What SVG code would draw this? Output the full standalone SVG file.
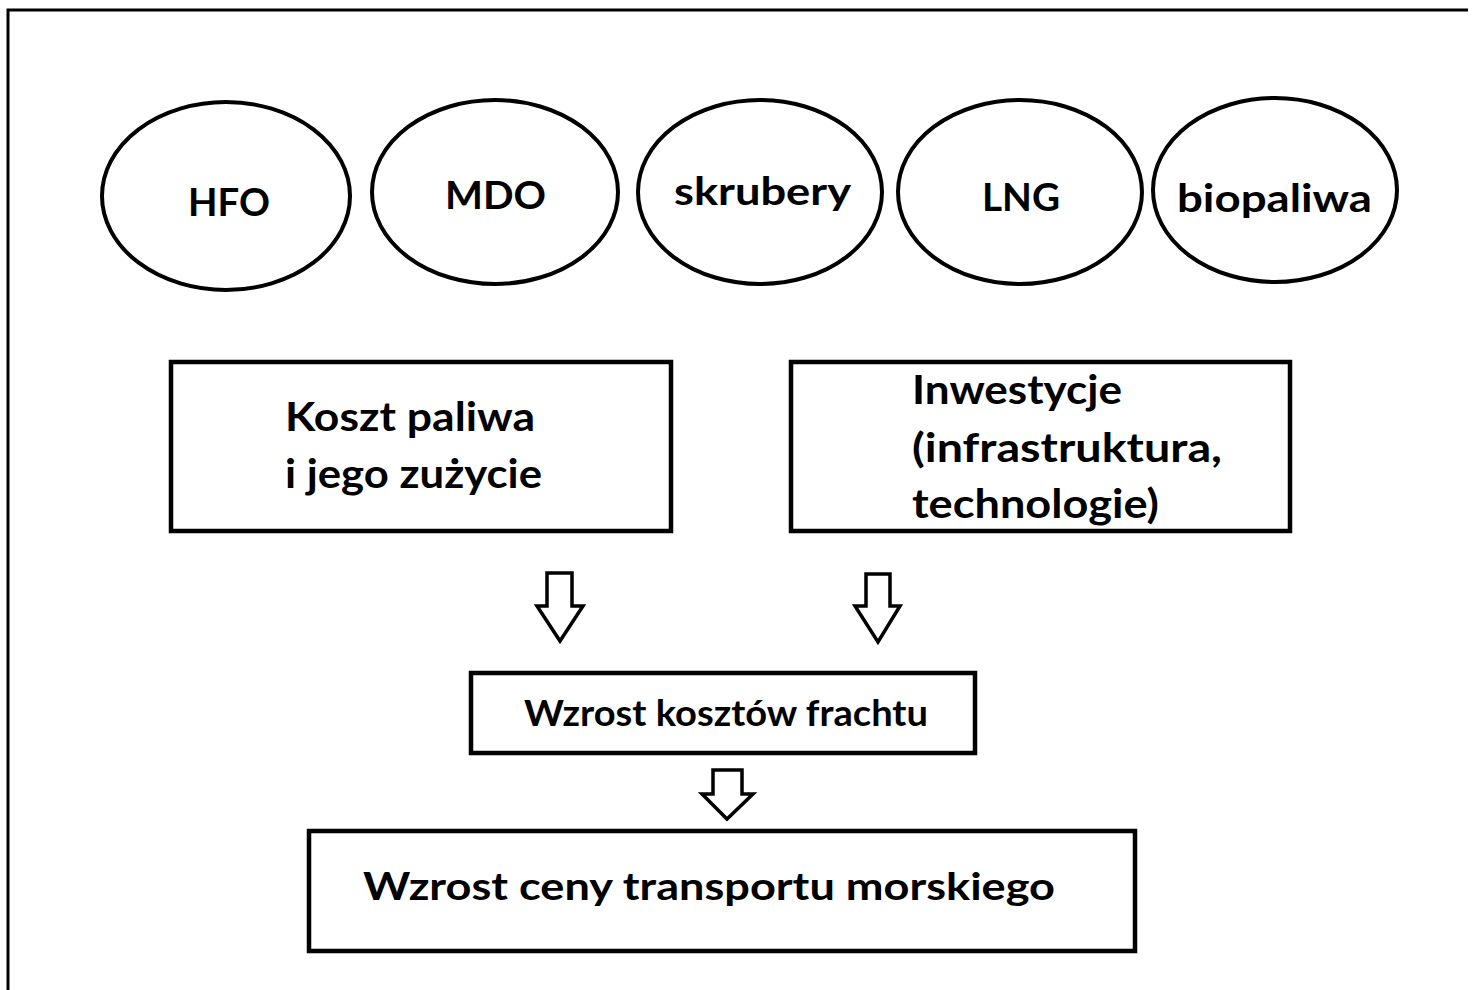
<svg xmlns="http://www.w3.org/2000/svg" width="1474" height="990" viewBox="0 0 1474 990">
<style>
.bg{fill:#fff}
.frame{fill:none;stroke:#000;stroke-width:3}
.ell{fill:#fff;stroke:#000;stroke-width:4}
.box{fill:#fff;stroke:#000;stroke-width:4.5}
.arr{fill:#fff;stroke:#000;stroke-width:3.5;stroke-linejoin:miter}
text{font-family:Lato,"Open Sans","Liberation Sans",sans-serif;font-weight:bold;fill:#000}
.t1{font-size:39px}
.t2{font-size:41px}
.t3{font-size:36px}
.t4{font-size:38px}
</style>
<rect class="bg" x="0" y="0" width="1474" height="990"/>
<g id="frame">
<path class="frame" d="M8,990 V10 H1468"/>
</g>
<g id="node-hfo">
<ellipse class="ell" cx="226" cy="196" rx="124" ry="94"/>
<text class="t1" x="188" y="216" textLength="82" lengthAdjust="spacingAndGlyphs">HFO</text>
</g>
<g id="node-mdo">
<ellipse class="ell" cx="495" cy="192" rx="123" ry="92"/>
<text class="t1" x="445" y="209" textLength="101" lengthAdjust="spacingAndGlyphs">MDO</text>
</g>
<g id="node-skrubery">
<ellipse class="ell" cx="760" cy="192" rx="122" ry="92"/>
<text class="t1" x="674" y="205" textLength="177" lengthAdjust="spacingAndGlyphs">skrubery</text>
</g>
<g id="node-lng">
<ellipse class="ell" cx="1020" cy="192" rx="122" ry="92"/>
<text class="t1" x="982" y="211" textLength="78" lengthAdjust="spacingAndGlyphs">LNG</text>
</g>
<g id="node-biopaliwa">
<ellipse class="ell" cx="1275" cy="190" rx="122" ry="92"/>
<text class="t1" x="1177" y="212" textLength="195" lengthAdjust="spacingAndGlyphs">biopaliwa</text>
</g>
<g id="node-koszt">
<rect class="box" x="171" y="362" width="500" height="169"/>
<text class="t2" x="285" y="431" textLength="250" lengthAdjust="spacingAndGlyphs">Koszt paliwa</text>
<text class="t2" x="285" y="488" textLength="257" lengthAdjust="spacingAndGlyphs">i jego zużycie</text>
</g>
<g id="node-inwestycje">
<rect class="box" x="791" y="362" width="499" height="169"/>
<text class="t2" x="912" y="404" textLength="210" lengthAdjust="spacingAndGlyphs">Inwestycje</text>
<text class="t2" x="912" y="462" textLength="310" lengthAdjust="spacingAndGlyphs">(infrastruktura,</text>
<text class="t2" x="912" y="518" textLength="247" lengthAdjust="spacingAndGlyphs">technologie)</text>
</g>
<g id="node-fracht">
<rect class="box" x="471" y="673" width="504" height="80"/>
<text class="t3" x="524" y="726" textLength="404" lengthAdjust="spacingAndGlyphs">Wzrost kosztów frachtu</text>
</g>
<g id="node-cena">
<rect class="box" x="309" y="831" width="826" height="120"/>
<text class="t4" x="363" y="900" textLength="692" lengthAdjust="spacingAndGlyphs">Wzrost ceny transportu morskiego</text>
</g>
<g id="connectors">
<polygon class="arr" points="547,573 572,573 572,606 583,606 560,641 537,606 547,606"/>
<polygon class="arr" points="866,574 890,574 890,606 900,606 878,642 855,606 866,606"/>
<polygon class="arr" points="713,770 742,770 742,794 753,794 727,819 702,794 713,794"/>
</g>
</svg>
